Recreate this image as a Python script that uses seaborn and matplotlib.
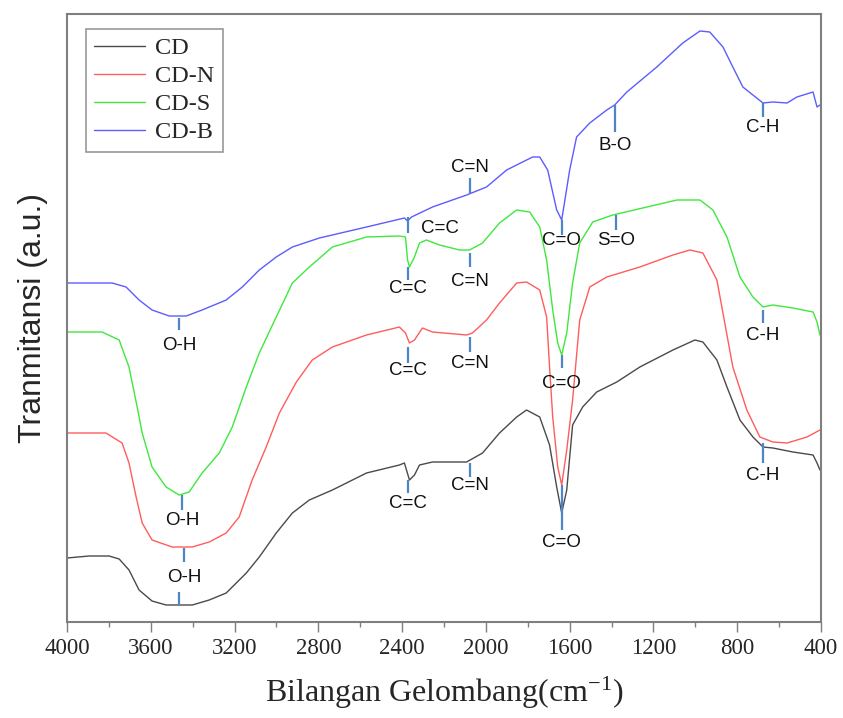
import matplotlib
matplotlib.use("Agg")
import matplotlib.pyplot as plt
import numpy as np
import pandas as pd
import seaborn as sns

# ---------------------------------------------------------------------------
# FTIR spectra (wavenumber in cm^-1, transmittance in arbitrary units)
# ---------------------------------------------------------------------------

cd_wn = [4000, 3895, 3799, 3751, 3704, 3656, 3594, 3527, 3465, 3402, 3321,
         3240, 3144, 3082, 3001, 2924, 2843, 2733, 2570, 2413, 2389, 2365,
         2341, 2317, 2255, 2092, 2016, 1935, 1853, 1806, 1743, 1696, 1662,
         1638, 1614, 1586, 1538, 1471, 1375, 1265, 1107, 1002, 964, 897, 849,
         787, 725, 677, 630, 534, 438, 419, 405]
cd_t = [62, 64, 64, 61, 50, 30, 19, 15, 15, 15, 20,
        27, 47, 63, 87, 107, 120, 130, 147, 155, 157, 140,
        145, 155, 158, 158, 167, 187, 203, 210, 203, 175, 133,
        107, 130, 195, 213, 228, 238, 253, 270, 280, 278, 260, 233,
        200, 183, 173, 172, 168, 165, 157, 150]

cdn_wn = [4000, 3814, 3737, 3704, 3670, 3641, 3594, 3498, 3402, 3321, 3240,
          3178, 3116, 3049, 2986, 2905, 2829, 2733, 2570, 2413, 2384, 2365,
          2341, 2303, 2255, 2092, 2064, 1997, 1935, 1853, 1806, 1743, 1710,
          1696, 1681, 1657, 1638, 1614, 1586, 1552, 1504, 1423, 1265, 1107,
          1026, 964, 897, 821, 754, 692, 630, 562, 467, 405]
cdn_t = [187, 187, 177, 157, 123, 97, 80, 73, 73, 78, 87,
         103, 140, 173, 207, 238, 260, 273, 285, 293, 287, 277,
         280, 292, 288, 285, 287, 300, 317, 337, 338, 330, 303,
         253, 203, 153, 135, 170, 220, 300, 333, 343, 353, 365,
         370, 367, 340, 253, 210, 183, 178, 177, 183, 190]

cds_wn = [4000, 3833, 3751, 3704, 3665, 3641, 3594, 3527, 3465, 3417, 3355,
          3273, 3211, 3144, 3082, 3001, 2924, 2843, 2733, 2570, 2413, 2384,
          2374, 2365, 2341, 2317, 2284, 2221, 2126, 2078, 2016, 1935, 1853,
          1791, 1743, 1710, 1681, 1657, 1638, 1614, 1586, 1552, 1490, 1394,
          1251, 1088, 978, 916, 849, 787, 725, 677, 630, 534, 438, 419, 405]
cds_t = [288, 288, 280, 253, 213, 187, 153, 133, 125, 128, 147,
         167, 193, 233, 267, 303, 337, 353, 373, 383, 384, 383,
         360, 353, 363, 377, 380, 375, 370, 370, 377, 397, 410,
         408, 393, 360, 310, 277, 265, 287, 337, 377, 398, 405,
         412, 420, 420, 410, 383, 343, 323, 313, 315, 312, 308, 298, 285]

cdb_wn = [4000, 3785, 3718, 3656, 3594, 3512, 3431, 3355, 3240, 3163, 3082,
          3001, 2924, 2795, 2570, 2389, 2374, 2355, 2255, 2092, 1997, 1901,
          1777, 1743, 1705, 1662, 1638, 1600, 1567, 1504, 1423, 1385, 1327,
          1184, 1060, 978, 931, 868, 821, 773, 725, 677, 630, 562, 515, 438,
          419, 405]
cdb_t = [337, 337, 333, 320, 310, 304, 304, 310, 320, 333, 350,
         363, 373, 382, 393, 402, 399, 403, 413, 425, 433, 450,
         463, 463, 450, 410, 400, 450, 483, 497, 510, 515, 528,
         553, 577, 589, 588, 573, 553, 533, 525, 517, 518, 517, 523, 528,
         513, 515]

samples = ["CD", "CD-N", "CD-S", "CD-B"]
colors = ["#4a4a4a", "#ff5c5c", "#3ee83e", "#5c5cff"]

# peak markers: (wavenumber, tick start, tick end, label, label x, label y)
peaks = [
    # CD-B
    (3465, 302, 290, "O-H", 3465, 275),
    (2374, 403, 387, "C=C", 2221, 392),
    (2078, 427, 442, "C=N", 2078, 453),
    (1638, 400, 385, "C=O", 1638, 380),
    (1385, 515, 488, "B-O", 1385, 475),
    (677, 518, 503, "C-H", 677, 493),
    # CD-S
    (3450, 125, 110, "O-H", 3450, 100),
    (2370, 353, 340, "C=C", 2370, 332),
    (2078, 367, 353, "C=N", 2078, 339),
    (1638, 265, 252, "C=O", 1638, 237),
    (1380, 405, 390, "S=O", 1380, 380),
    (677, 310, 297, "C-H", 677, 285),
    # CD-N
    (3441, 72, 58, "O-H", 3441, 43),
    (2370, 273, 257, "C=C", 2370, 250),
    (2078, 283, 268, "C=N", 2078, 257),
    (1638, 135, 90, "C=O", 1638, 78),
    # CD
    (3465, 15, 28, None, None, None),
    (2370, 140, 127, "C=C", 2370, 117),
    (2078, 157, 143, "C=N", 2078, 135),
    (677, 177, 157, "C-H", 677, 145),
]

frames = []
for name, wn, t in zip(samples, [cd_wn, cdn_wn, cds_wn, cdb_wn],
                       [cd_t, cdn_t, cds_t, cdb_t]):
    frames.append(pd.DataFrame({"wn": wn, "T": t, "sample": name}))
df = pd.concat(frames, ignore_index=True)

sns.set_style("ticks")
plt.rcParams["font.family"] = ["Liberation Serif", "DejaVu Serif"]
plt.rcParams["mathtext.default"] = "regular"

fig = plt.figure(figsize=(8.43, 7.18), dpi=100)
ax = fig.add_axes([0.0795, 0.1337, 0.8944, 0.8468])

sns.lineplot(data=df, x="wn", y="T", hue="sample", hue_order=samples,
             palette=colors, estimator=None, linewidth=1.0, ax=ax)

for wn, y0, y1, label, lx, ly in peaks:
    ax.plot([wn, wn], [y0, y1], color="#4d86c6", linewidth=1.6,
            solid_capstyle="butt", zorder=3)
    if label:
        ax.text(lx, ly, label, ha="center", va="center", fontsize=13.5,
                family=["Liberation Sans", "DejaVu Sans"], color="#111111")

ax.set_xlim(4000, 400)
ax.set_ylim(-2, 606)
ax.set_xticks(np.arange(4000, 399, -400))
ax.set_xticks(np.arange(3800, 400, -400), minor=True)
ax.set_yticks([])
ax.tick_params(axis="x", which="major", direction="out", length=7.2,
               width=1.0, color="#7f7f7f", labelsize=16.5, pad=4)
ax.tick_params(axis="x", which="minor", direction="out", length=3.5,
               width=1.0, color="#7f7f7f")
for sp in ax.spines.values():
    sp.set_color("#7f7f7f")
    sp.set_linewidth(1.5)

ax.set_xlabel("Bilangan Gelombang(cm$^{-1}$)", fontsize=23, labelpad=12)
ax.set_ylabel("Tranmitansi (a.u.)", fontsize=23,
              family=["Liberation Sans", "DejaVu Sans"], labelpad=14)

handles, labels = ax.get_legend_handles_labels()
leg = ax.legend(handles, labels, loc="upper left",
                bbox_to_anchor=(0.025, 0.976), borderaxespad=0,
                fontsize=17.5, frameon=True, fancybox=False,
                handlelength=2.1, handletextpad=0.4, labelspacing=0.25,
                borderpad=0.35)
leg.get_frame().set_edgecolor("#7f7f7f")
leg.get_frame().set_linewidth(1.2)

fig.savefig("out.png", dpi=100)
